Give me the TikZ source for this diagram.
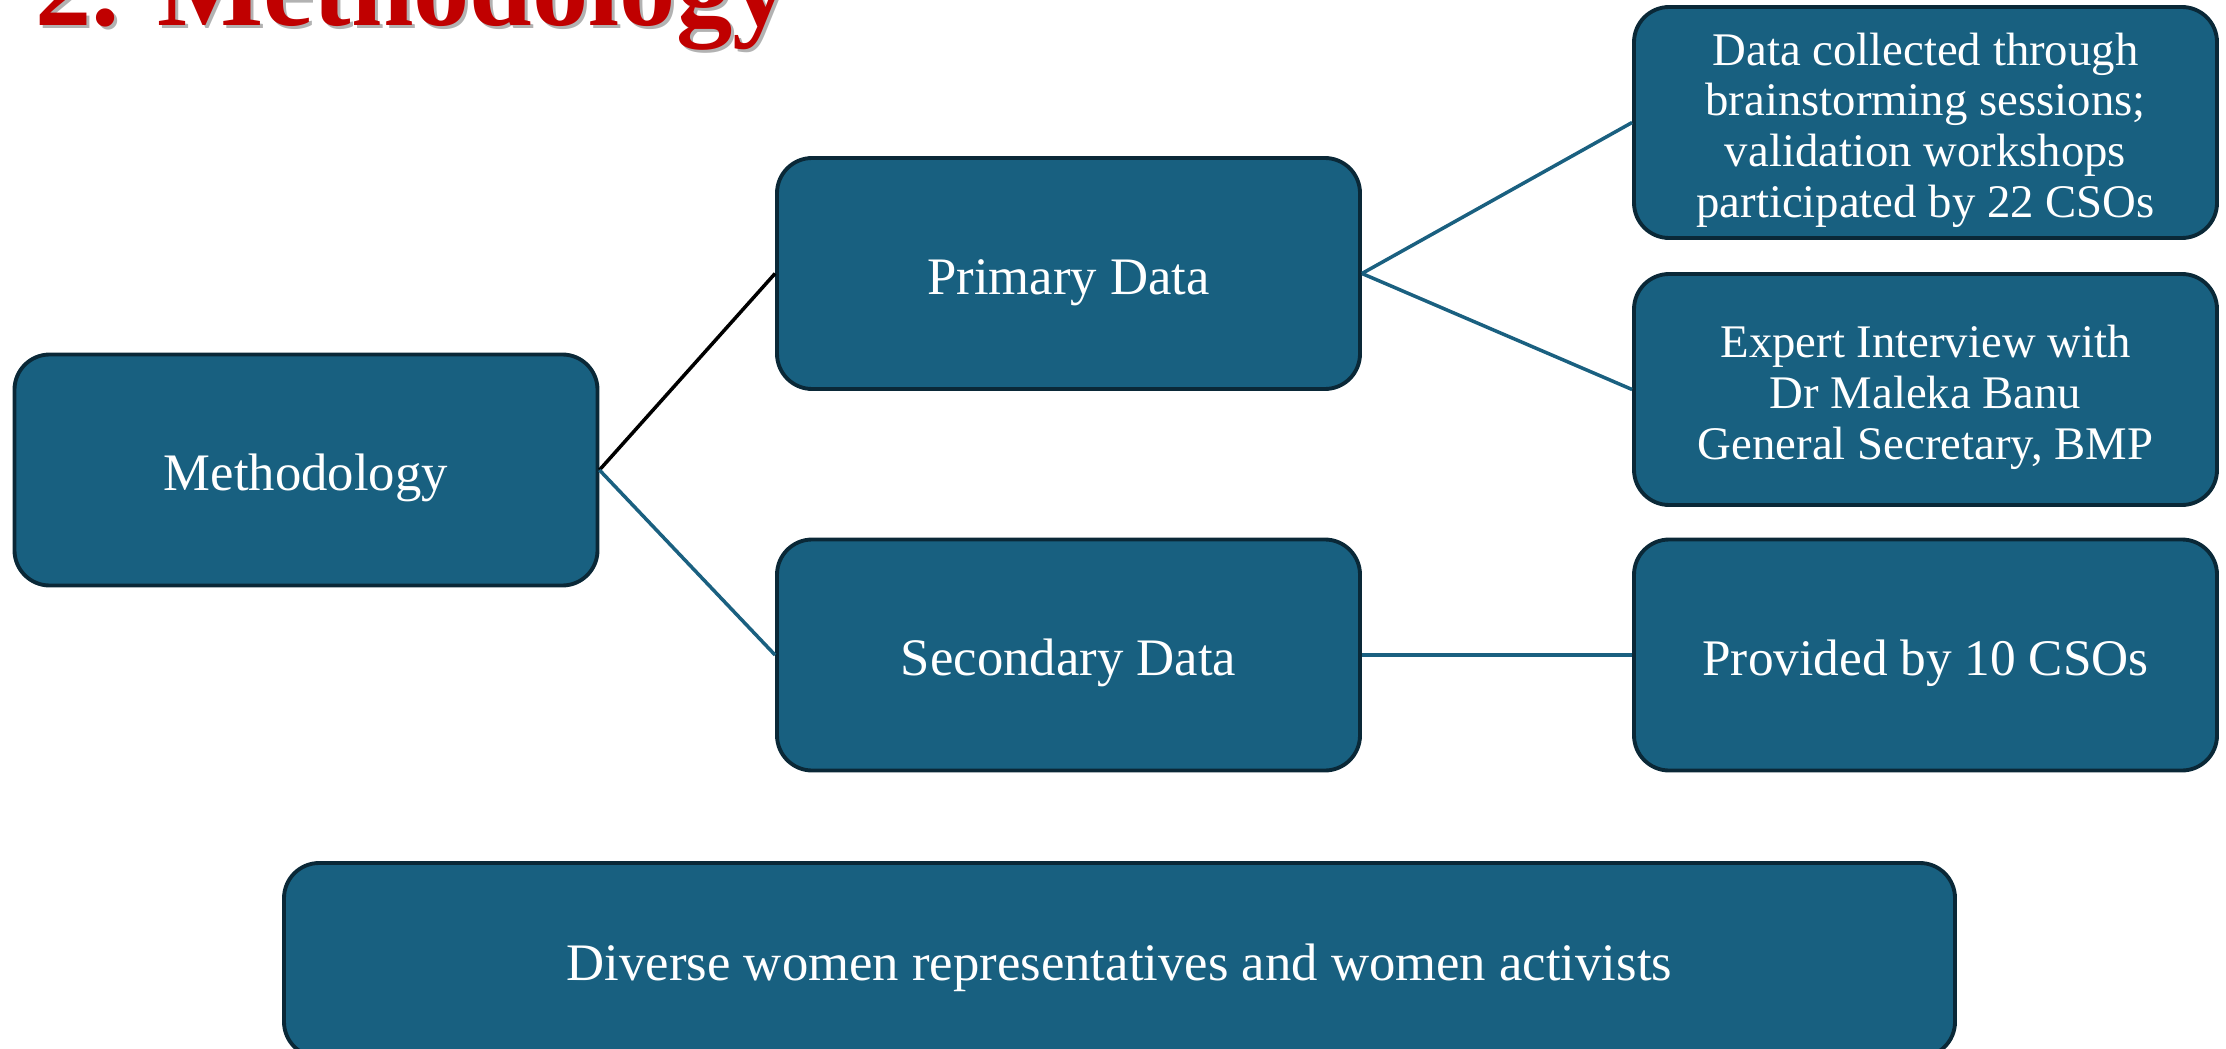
\documentclass[tikz,border=0pt]{standalone}
\usepackage{fontspec}
\setmainfont{Liberation Serif}
\usepackage{tikz}
\usetikzlibrary{positioning}

\definecolor{boxblue}{RGB}{24,96,128}
\definecolor{boxedge}{RGB}{10,40,55}
\definecolor{linkblue}{RGB}{26,96,128}
\definecolor{titlered}{RGB}{192,0,0}

% lines of a note, set a little low in their box
\newcommand{\notelines}[1]{\raisebox{-2.5pt}[\height][\depth]{\begin{tabular}{@{}c@{}}#1\end{tabular}}}

\begin{document}
\begin{tikzpicture}[
  box/.style={draw=boxedge, line width=1.1pt, fill=boxblue, rounded corners=10pt,
    text=white, align=center, minimum width=5.83cm, minimum height=2.31cm,
    inner sep=2pt, font=\fontsize{15}{17}\selectfont,
    execute at begin node={\rule{0pt}{1em}}},
  notebox/.style={box, font=\fontsize{13.3}{14.5}\selectfont},
  link/.style={draw=linkblue, line width=1pt}
]
\useasboundingbox (0,0) rectangle (22.26,-10.48);

% Title
\node[anchor=base west, inner sep=0, text=black!30, font=\fontsize{32}{38}\selectfont\bfseries] at (0.38,-0.29) {2. Methodology};
\node[anchor=base west, inner sep=0, text=titlered, font=\fontsize{32}{38}\selectfont\bfseries] (title) at (0.35,-0.26) {2. Methodology};

% Boxes
\node[box] (meth) at (3.06,-4.70) {Methodology};
\node[box] (prim) at (10.685,-2.735) {Primary Data};
\node[box] (sec) at (10.685,-6.55) {Secondary Data};
\node[notebox] (coll) at (19.255,-1.225) {\notelines{Data collected through\\brainstorming sessions;\\validation workshops\\participated by 22 CSOs}};
\node[notebox] (expt) at (19.255,-3.895) {\notelines{Expert Interview with\\Dr Maleka Banu\\General Secretary, BMP}};
\node[box, font=\fontsize{14.6}{17}\selectfont] (prov) at (19.255,-6.55) {Provided by 10 CSOs};
\node[box, minimum width=16.71cm, minimum height=1.94cm] (div) at (11.195,-9.60) {Diverse women representatives and women activists};

% Links
\draw[line width=1pt] (meth.east) -- (prim.west);
\draw[link] (meth.east) -- (sec.west);
\draw[link] (prim.east) -- (coll.west);
\draw[link] (prim.east) -- (expt.west);
\draw[link] (sec.east) -- (prov.west);

\end{tikzpicture}
\end{document}
